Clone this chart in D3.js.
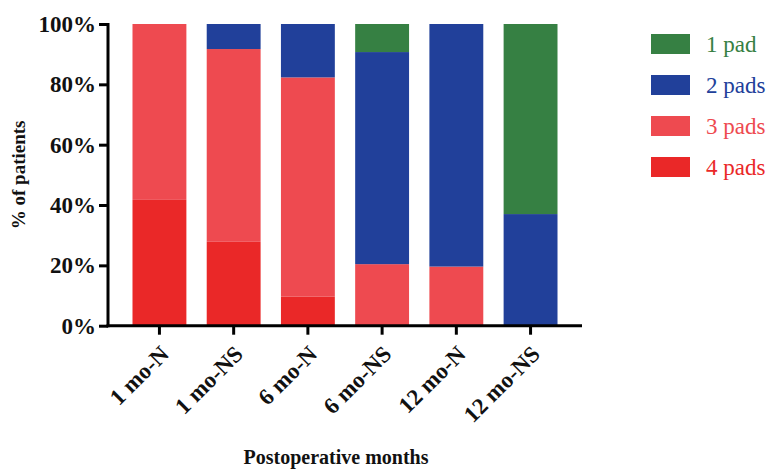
<!DOCTYPE html>
<html>
<head>
<meta charset="utf-8">
<script src="https://cdn.jsdelivr.net/npm/d3@7"></script>
<style>
  body { margin: 0; background: #fff; }
  svg text { font-family: "Liberation Serif", "DejaVu Serif", serif !important; }
</style>
</head>
<body>
<div id="chart"></div>
<script>
// ============================
// Data
// ============================
const groups = ["1 mo-N", "1 mo-NS", "6 mo-N", "6 mo-NS", "12 mo-N", "12 mo-NS"];
const seriesNames = ["4 pads", "3 pads", "2 pads", "1 pad"];   // bottom to top
const pads4 = [41.7, 27.8, 9.7, 0, 0, 0];
const pads3 = [58.3, 63.9, 72.6, 20.4, 19.6, 0];
const pads2 = [0, 8.3, 17.7, 70.3, 80.4, 37.0];
const pad1 = [0, 0, 0, 9.3, 0, 63.0];
const yTicks = [0, 20, 40, 60, 80, 100];
const legendOrder = ["1 pad", "2 pads", "3 pads", "4 pads"];
const colors = {"1 pad": "#368043", "2 pads": "#21409a", "3 pads": "#ee4a50", "4 pads": "#ea2828"};

const width = 775, height = 470;
const margin = {top: 24, right: 193, bottom: 144, left: 108};

const svg = d3.select("#chart").append("svg")
  .attr("width", width).attr("height", height);

const table = groups.map((g, i) => ({group: g, "4 pads": pads4[i], "3 pads": pads3[i], "2 pads": pads2[i], "1 pad": pad1[i]}));
const stacked = d3.stack().keys(seriesNames)(table);

const xscale = d3.scaleBand()
  .domain(groups)
  .range([margin.left, width - margin.right])
  .paddingInner(0.274)
  .paddingOuter(0.33);

const yscale = d3.scaleLinear()
  .domain([0, 100])
  .range([height - margin.bottom - 0.3, margin.top]);

// bars
svg.append("g")
  .selectAll("g")
  .data(stacked)
  .join("g")
    .attr("fill", d => colors[d.key])
  .selectAll("rect")
  .data(d => d)
  .join("rect")
    .attr("x", d => xscale(d.data.group))
    .attr("y", d => yscale(d[1]))
    .attr("width", xscale.bandwidth())
    .attr("height", d => yscale(d[0]) - yscale(d[1]));

// y axis
const yAxis = svg.append("g")
  .attr("transform", `translate(${margin.left},0)`)
  .call(d3.axisLeft(yscale).tickValues(yTicks).tickFormat(d => d + "%").tickSize(9).tickSizeOuter(0).tickPadding(3));
yAxis.select(".domain").attr("stroke-width", 3).attr("d", `M0,${yscale(100) - 1}V${yscale(0) + 1.5}`);
yAxis.selectAll(".tick line").attr("stroke-width", 3);
yAxis.selectAll(".tick text")
  .attr("font-size", 23).attr("font-weight", "bold").attr("fill", "#111");

// x axis
const xAxis = svg.append("g")
  .attr("transform", `translate(0,${yscale(0)})`)
  .call(d3.axisBottom(xscale).tickSize(9).tickSizeOuter(0));
xAxis.select(".domain").attr("stroke-width", 3).attr("d", `M${margin.left - 1.5},0H${width - margin.right}`);
xAxis.selectAll(".tick line").attr("stroke-width", 3);
xAxis.selectAll(".tick text")
  .attr("font-size", 23).attr("font-weight", "bold").attr("fill", "#111")
  .attr("text-anchor", "end")
  .attr("dy", "0.35em")
  .attr("transform", "translate(5,24) rotate(-45)")
  .attr("x", 0).attr("y", 0);

// axis titles
svg.append("text")
  .attr("transform", `translate(25,${(yscale(0) + yscale(100)) / 2}) rotate(-90)`)
  .attr("text-anchor", "middle")
  .attr("font-size", 19).attr("font-weight", "bold").attr("fill", "#111")
  .text("% of patients");

svg.append("text")
  .attr("x", 336).attr("y", 464)
  .attr("text-anchor", "middle")
  .attr("font-size", 20).attr("font-weight", "bold").attr("fill", "#111")
  .text("Postoperative months");

// legend
const legend = svg.append("g")
  .selectAll("g")
  .data(legendOrder)
  .join("g")
    .attr("transform", (d, i) => `translate(651,${34 + i * 41})`);
legend.append("rect")
  .attr("width", 39).attr("height", 20)
  .attr("fill", d => colors[d]);
legend.append("text")
  .attr("x", 55).attr("y", 10).attr("dy", "0.35em")
  .attr("font-size", 23)
  .attr("fill", d => colors[d])
  .text(d => d);
</script>
</body>
</html>
